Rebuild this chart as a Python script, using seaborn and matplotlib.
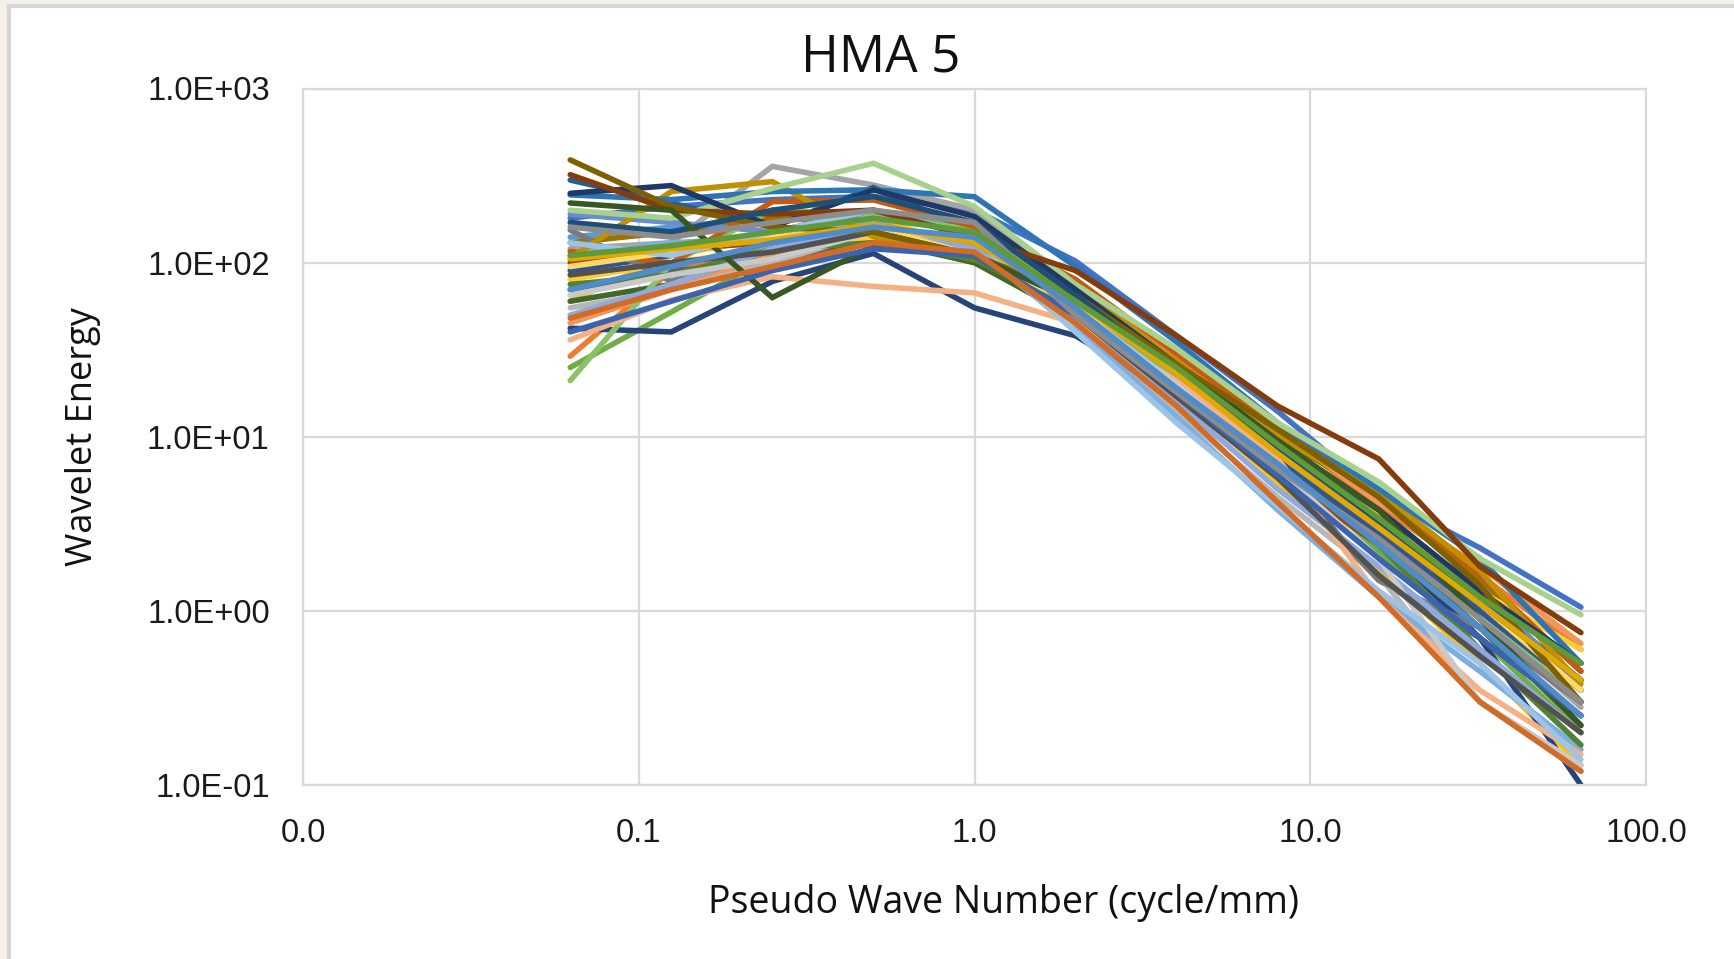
import numpy as np
import pandas as pd
import matplotlib
matplotlib.use("Agg")
import matplotlib.pyplot as plt
from matplotlib.patches import Rectangle
from matplotlib.ticker import FixedLocator, FixedFormatter, NullLocator
import seaborn as sns

# ---------------- data ----------------
wave_number = [0.0625, 0.125, 0.25, 0.5, 1, 2, 4, 8, 16, 32, 64]

s01 = [180, 210, 230, 240, 200, 102, 38, 14, 4.6, 2.3, 1.05]
s02 = [29, 90, 120, 150, 120, 60, 28, 11, 4.0, 1.6, 0.6]
s03 = [120, 130, 357, 279, 201, 65, 22, 7, 2.6, 0.9, 0.28]
s04 = [60, 110, 140, 180, 120, 55, 18, 5.5, 1.7, 0.5, 0.13]
s05 = [140, 160, 180, 200, 160, 70, 24, 8.5, 3.0, 1.1, 0.4]
s06 = [25, 52, 110, 150, 120, 55, 20, 7.5, 2.2, 0.7, 0.2]
s07 = [42, 40, 78, 113, 55, 38, 17, 6.5, 2.5, 0.7, 0.1]
s08 = [100, 120, 130, 160, 110, 50, 17, 6, 2.4, 0.8, 0.3]
s09 = [70, 90, 100, 140, 100, 50, 19, 6.8, 1.5, 0.7, 0.25]
s10 = [130, 150, 180, 170, 120, 60, 25, 10, 4.5, 1.5, 0.45]
s11 = [298, 220, 160, 270, 150, 60, 24, 9, 3.5, 1.2, 0.4]
s12 = [60, 75, 110, 135, 100, 48, 19, 7.5, 2.6, 0.8, 0.22]
s13 = [190, 170, 150, 190, 150, 65, 24, 8, 3.2, 1.4, 0.35]
s14 = [45, 70, 110, 150, 140, 70, 30, 11, 4.2, 1.8, 0.65]
s15 = [55, 70, 100, 150, 130, 40, 14, 4.5, 1.6, 0.3, 0.12]
s16 = [80, 100, 120, 140, 110, 55, 22, 8, 3.5, 1.3, 0.6]
s17 = [110, 130, 140, 170, 120, 42, 13, 3.8, 1.2, 0.45, 0.16]
s18 = [21, 99, 201, 188, 154, 60, 22, 8, 3.0, 1.0, 0.3]
s19 = [90, 110, 150, 200, 140, 55, 20, 7.5, 2.8, 1.0, 0.35]
s20 = [116, 99, 224, 229, 161, 80, 30, 11, 4.8, 1.6, 0.45]
s21 = [154, 78, 135, 165, 129, 60, 23, 6, 1.5, 0.8, 0.3]
s22 = [106, 256, 292, 141, 104, 74, 27, 10, 4.8, 1.7, 0.38]
s23 = [245, 230, 256, 262, 239, 95, 35, 12, 5.0, 2.0, 0.5]
s24 = [75, 85, 120, 130, 105, 52, 19, 7, 2.4, 0.6, 0.17]
s25 = [50, 75, 120, 160, 120, 48, 16, 5, 1.8, 0.6, 0.2]
s26 = [36, 61, 83, 73, 67, 45, 21, 7.5, 1.2, 0.35, 0.15]
s27 = [65, 85, 105, 150, 140, 55, 20, 6.5, 2.0, 0.3, 0.13]
s28 = [95, 115, 140, 160, 110, 58, 24, 9, 3.2, 1.1, 0.35]
s29 = [130, 110, 150, 200, 140, 40, 12, 4.0, 1.3, 0.5, 0.14]
s30 = [200, 180, 267, 372, 210, 75, 32, 12, 5.5, 2.0, 0.95]
s31 = [250, 277, 161, 262, 184, 70, 26, 9.5, 3.8, 1.3, 0.5]
s32 = [320, 200, 190, 200, 140, 90, 38, 15, 7.45, 1.8, 0.75]
s33 = [85, 100, 115, 150, 110, 50, 17, 5.8, 1.6, 0.55, 0.2]
s34 = [389, 210, 160, 150, 110, 65, 26, 11, 4.5, 1.4, 0.3]
s35 = [170, 150, 200, 240, 170, 65, 23, 8.5, 3.2, 1.1, 0.4]
s36 = [220, 200, 63, 125, 110, 60, 25, 9.5, 3.8, 0.9, 0.22]
s37 = [40, 60, 90, 120, 110, 50, 18, 6, 2.0, 0.7, 0.25]
s38 = [48, 70, 95, 130, 115, 45, 15, 4.2, 1.2, 0.3, 0.12]
s39 = [160, 140, 170, 200, 170, 50, 18, 6.5, 2.6, 0.9, 0.3]
s40 = [105, 120, 135, 165, 130, 60, 23, 8, 3.0, 1.1, 0.4]
s41 = [70, 95, 130, 160, 140, 55, 19, 7, 2.4, 0.8, 0.25]
s42 = [110, 125, 150, 180, 150, 60, 25, 9, 3.4, 1.2, 0.5]

series_values = [s01, s02, s03, s04, s05, s06, s07, s08, s09, s10, s11, s12, s13, s14,
                 s15, s16, s17, s18, s19, s20, s21, s22, s23, s24, s25, s26, s27, s28,
                 s29, s30, s31, s32, s33, s34, s35, s36, s37, s38, s39, s40, s41, s42]
series_names = [f"S{i + 1}" for i in range(len(series_values))]

x_ticks = [0.01, 0.1, 1, 10, 100]
x_tick_labels = ["0.0", "0.1", "1.0", "10.0", "100.0"]
y_ticks = [0.1, 1, 10, 100, 1000]
y_tick_labels = ["1.0E-01", "1.0E+00", "1.0E+01", "1.0E+02", "1.0E+03"]

# ---------------- styling ----------------
excel_colors = [
    '#4472C4', '#ED7D31', '#A5A5A5', '#FFC000', '#5B9BD5', '#70AD47',
    '#264478', '#9E480E', '#636363', '#997300', '#255E91', '#43682B',
    '#698ED0', '#F1975A', '#B7B7B7', '#FFCD33', '#7CAFDD', '#8CC168',
    '#2F5597', '#C55A11', '#7B7B7B', '#BF9000', '#2E75B6', '#548235',
    '#8FAADC', '#F4B183', '#C9C9C9', '#FFD966', '#9DC3E6', '#A9D18E',
    '#203864', '#843C0C', '#525252', '#7F6000', '#1F4E79', '#385723',
    '#3A64AE', '#D26B26', '#8C8C8C', '#E0A800', '#4F8CC9', '#5E9A3A',
]

rows = []
for name, vals in zip(series_names, series_values):
    for xv, yv in zip(wave_number, vals):
        rows.append({"series": name, "x": xv, "y": yv})
df = pd.DataFrame(rows)

sns.set_theme(style="white")
plt.rcParams['font.family'] = ['Open Sans', 'DejaVu Sans']

W, H = 1734, 959
fig = plt.figure(figsize=(W / 100, H / 100), dpi=100)
fig.patch.set_facecolor('#F6F0EA')
# white chart area with gray border (behind the axes)
fig.patches.append(Rectangle((9 / W, -0.02), 1.02, 1 - 6 / H + 0.02,
                             transform=fig.transFigure, facecolor='white',
                             edgecolor='#D6D6D6', linewidth=3, zorder=-5))

ax = fig.add_axes([303 / W, 1 - 785 / H, (1646 - 303) / W, (785 - 88.5) / H])
ax.set_facecolor('white')
ax.set_zorder(2)

sns.lineplot(data=df, x="x", y="y", hue="series", palette=excel_colors[:len(series_names)],
             hue_order=series_names, estimator=None, sort=False, legend=False, ax=ax)
for ln in ax.get_lines():
    ln.set_linewidth(4.0)
    ln.set_solid_joinstyle('miter')

ax.set_xscale('log')
ax.set_yscale('log')
ax.set_xlim(0.01, 100)
ax.set_ylim(0.1, 1000)
ax.xaxis.set_major_locator(FixedLocator(x_ticks))
ax.xaxis.set_major_formatter(FixedFormatter(x_tick_labels))
ax.yaxis.set_major_locator(FixedLocator(y_ticks))
ax.yaxis.set_major_formatter(FixedFormatter(y_tick_labels))
ax.xaxis.set_minor_locator(NullLocator())
ax.yaxis.set_minor_locator(NullLocator())

ax.grid(True, which='major', color='#D9D9D9', linewidth=1.6)
ax.set_axisbelow(True)
for sp in ax.spines.values():
    sp.set_color('#D9D9D9')
    sp.set_linewidth(1.6)

ax.tick_params(axis='x', length=0, pad=24, labelsize=23.5, labelcolor='#1a1a1a')
ax.tick_params(axis='y', length=0, pad=24, labelsize=23.5, labelcolor='#1a1a1a')
for lbl in ax.get_xticklabels() + ax.get_yticklabels():
    lbl.set_family(['Liberation Sans', 'DejaVu Sans'])
ax.set_xlabel("")
ax.set_ylabel("")

fig.text(881 / W, 1 - 58 / H, "HMA 5", ha='center', va='center', fontsize=37, color='#111111')
fig.text(1003 / W, 1 - 903 / H, "Pseudo Wave Number (cycle/mm)", ha='center', va='center',
         fontsize=27, color='#111111')
fig.text(83 / W, 1 - 437 / H, "Wavelet Energy", ha='center', va='center', rotation=90,
         fontsize=26, color='#111111')

fig.savefig("out.png", dpi=100, facecolor=fig.get_facecolor())
